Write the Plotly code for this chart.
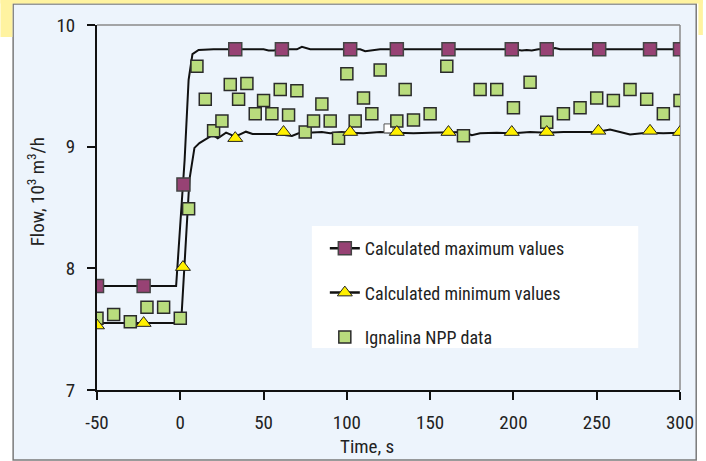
import plotly.graph_objects as go

# ---------------- data ----------------
max_line_t = [-50, -2.5, 2.6, 5.0, 7.3, 11, 20, 40, 50, 53, 56, 62, 70, 73, 75, 78, 85,
              108, 111, 114, 120, 150, 200, 205, 208, 211, 215, 222, 225, 228, 235, 300]
max_line_v = [7.855, 7.855, 8.89, 9.55, 9.76, 9.795, 9.8, 9.8, 9.8, 9.79, 9.79, 9.8, 9.8, 9.82, 9.81, 9.8, 9.8,
              9.8, 9.785, 9.79, 9.8, 9.8, 9.8, 9.79, 9.795, 9.79, 9.8, 9.8, 9.81, 9.8, 9.8, 9.8]

min_line_t = [-50, 0.5, 5.5, 8.5, 11.5, 16.5, 19.5, 22.5, 27.5, 33, 39.4, 43.4, 58, 67, 71, 85, 90, 97,
              100, 110, 120, 130, 140, 150, 160, 170, 175, 180, 190, 200, 210, 220, 230, 240, 250,
              258, 265, 270, 280, 290, 300]
min_line_v = [7.55, 7.55, 8.73, 8.99, 9.03, 9.07, 9.096, 9.069, 9.115, 9.082, 9.123, 9.104, 9.104, 9.088,
              9.11, 9.12, 9.11, 9.12,
              9.115, 9.11, 9.12, 9.115, 9.11, 9.115, 9.12, 9.12, 9.095, 9.11, 9.115, 9.11, 9.12, 9.115,
              9.12, 9.12, 9.12, 9.14, 9.12, 9.10, 9.115, 9.11, 9.115]

max_pts_t = [-50, -22, 1.9, 33, 61, 102, 130, 161, 199, 220, 251.5, 282, 300]
max_pts_v = [7.855, 7.855, 8.69, 9.8, 9.8, 9.8, 9.8, 9.8, 9.8, 9.8, 9.8, 9.8, 9.8]

min_pts_t = [-50, -22, 1.6, 33, 62, 102, 130, 161, 199, 220, 251, 282, 300]
min_pts_v = [7.53, 7.55, 8.01, 9.07, 9.12, 9.12, 9.12, 9.12, 9.12, 9.12, 9.13, 9.13, 9.12]

npp_t = [-50, -40, -30, -20, -10, 0, 5, 10, 15, 20, 25, 30, 35, 40, 45, 50, 55, 60, 65, 70, 75,
         80, 85, 90, 95, 100, 105, 110, 115, 120, 130, 135, 140, 150, 160, 170, 180, 190, 200,
         210, 220, 230, 240, 250, 260, 270, 280, 290, 300]
npp_v = [7.59, 7.62, 7.56, 7.68, 7.68, 7.59, 8.49, 9.66, 9.39, 9.13, 9.21, 9.51, 9.39, 9.52, 9.27,
         9.38, 9.27, 9.47, 9.26, 9.46, 9.12, 9.21, 9.35, 9.21, 9.07, 9.60, 9.21, 9.40, 9.27, 9.63,
         9.21, 9.47, 9.22, 9.27, 9.66, 9.09, 9.47, 9.47, 9.32, 9.53, 9.20, 9.27, 9.32, 9.40, 9.38,
         9.47, 9.39, 9.27, 9.38]

hollow_t = [125]
hollow_v = [9.15]

x_ticks = [-50, 0, 50, 100, 150, 200, 250, 300]
y_ticks = [7, 8, 9, 10]

# ---------------- style ----------------
FONT = "Liberation Sans Narrow, Arial Narrow, Roboto Condensed, Roboto, sans-serif"
PURPLE = "#974274"
GREEN = "#B9DC7D"
YELLOW = "#FFF000"
PANEL = "#EDF4FC"
BAND = "#FFF3A0"

W, H = 706, 461
L, R, T, B = 97, 23, 25, 71
PW, PH = W - L - R, H - T - B


def px(x):
    return (x - L) / PW


def py(y):
    return (H - B - y) / PH


fig = go.Figure()

# calculated lines (no legend)
fig.add_trace(go.Scatter(x=min_line_t, y=min_line_v, mode="lines",
                         line=dict(color="#111", width=2), showlegend=False, hoverinfo="skip"))
fig.add_trace(go.Scatter(x=max_line_t, y=max_line_v, mode="lines",
                         line=dict(color="#111", width=2), showlegend=False, hoverinfo="skip"))
# hollow point
fig.add_trace(go.Scatter(x=hollow_t, y=hollow_v, mode="markers", showlegend=False,
                         marker=dict(symbol="square", size=9, color="white",
                                     line=dict(color="#555", width=1))))
# Ignalina data
fig.add_trace(go.Scatter(x=npp_t, y=npp_v, mode="markers", name="Ignalina NPP data",
                         legendrank=3, legendgroup="c",
                         marker=dict(symbol="square", size=12, color=GREEN,
                                     line=dict(color="#2b2b2b", width=1.5))))
# calculated markers
fig.add_trace(go.Scatter(x=max_pts_t, y=max_pts_v, mode="markers", showlegend=False,
                         marker=dict(symbol="square", size=13, color=PURPLE,
                                     line=dict(color="#444", width=1.5))))
fig.add_trace(go.Scatter(x=min_pts_t, y=min_pts_v, mode="markers", showlegend=False,
                         marker=dict(symbol="triangle-up", size=13, color=YELLOW,
                                     line=dict(color="#222", width=1))))
# legend entries
fig.add_trace(go.Scatter(x=[None], y=[None], mode="lines+markers", name="Calculated maximum values",
                         legendrank=1, legendgroup="a",
                         line=dict(color="#111", width=2.5),
                         marker=dict(symbol="square", size=13, color=PURPLE,
                                     line=dict(color="#444", width=1.5))))
fig.add_trace(go.Scatter(x=[None], y=[None], mode="lines+markers", name="Calculated minimum values",
                         legendrank=2, legendgroup="b",
                         line=dict(color="#111", width=2.5),
                         marker=dict(symbol="triangle-up", size=13, color=YELLOW,
                                     line=dict(color="#222", width=1))))

shapes = [
    # panel
    dict(type="rect", xref="paper", yref="paper", x0=px(12.7), x1=px(699.3), y0=py(460), y1=py(4),
         fillcolor=PANEL, line=dict(color="#7a7a7a", width=1.5), layer="below"),
    # yellow header band pieces
    dict(type="rect", xref="paper", yref="paper", x0=px(0), x1=px(706), y0=py(3.5), y1=py(0),
         fillcolor=BAND, line=dict(width=0), layer="below"),
    dict(type="rect", xref="paper", yref="paper", x0=px(0), x1=px(12), y0=py(37), y1=py(0),
         fillcolor=BAND, line=dict(width=0), layer="below"),
    dict(type="rect", xref="paper", yref="paper", x0=px(701.5), x1=px(706), y0=py(35), y1=py(0),
         fillcolor=BAND, line=dict(width=0), layer="below"),
    # legend box
    dict(type="rect", xref="paper", yref="paper", x0=px(313), x1=px(641), y0=py(348), y1=py(226),
         fillcolor="white", line=dict(width=0), layer="below"),
    # top and right plot border (gray)
    dict(type="line", xref="paper", yref="paper", x0=0, x1=1, y0=1, y1=1,
         line=dict(color="#8a8a8a", width=1.5), layer="below"),
    dict(type="line", xref="paper", yref="paper", x0=1, x1=1, y0=0, y1=1,
         line=dict(color="#8a8a8a", width=1.5), layer="below"),
]

annotations = [
    dict(text="Time, s", xref="paper", yref="paper", x=px(368), y=py(447), showarrow=False,
         font=dict(family=FONT, size=19, color="#222"), xanchor="center", yanchor="middle"),
    dict(text="Flow, 10<sup>3</sup> m<sup>3</sup>/h", xref="paper", yref="paper", x=px(36), y=py(192),
         showarrow=False, textangle=-90,
         font=dict(family=FONT, size=19, color="#222"), xanchor="center", yanchor="middle"),
]

fig.update_layout(
    width=W, height=H,
    margin=dict(l=L, r=R, t=T, b=B, pad=0),
    paper_bgcolor="white",
    plot_bgcolor="rgba(0,0,0,0)",
    font=dict(family=FONT, size=19, color="#222"),
    shapes=shapes,
    annotations=annotations,
    legend=dict(x=px(326), y=py(230), xanchor="left", yanchor="top",
                bgcolor="rgba(0,0,0,0)", font=dict(family=FONT, size=18, color="#222"),
                tracegroupgap=18, itemsizing="trace"),
)
fig.update_xaxes(range=[-50, 300], tickvals=x_ticks, ticktext=[str(v) for v in x_ticks],
                 showgrid=False, zeroline=False, showline=True, linecolor="#111", linewidth=2,
                 ticks="outside", ticklen=8, tickwidth=2, tickcolor="#111",
                 ticklabelstandoff=6, tickfont=dict(family=FONT, size=19, color="#222"))
fig.update_yaxes(range=[7, 10], tickvals=y_ticks, ticktext=[str(v) for v in y_ticks],
                 showgrid=False, zeroline=False, showline=True, linecolor="#111", linewidth=2,
                 ticks="outside", ticklen=8, tickwidth=2, tickcolor="#111",
                 ticklabelstandoff=8, tickfont=dict(family=FONT, size=19, color="#222"))

fig.write_html("out.html", config={"displayModeBar": False},
               post_script="document.body.style.margin='0';document.body.style.padding='0';")
